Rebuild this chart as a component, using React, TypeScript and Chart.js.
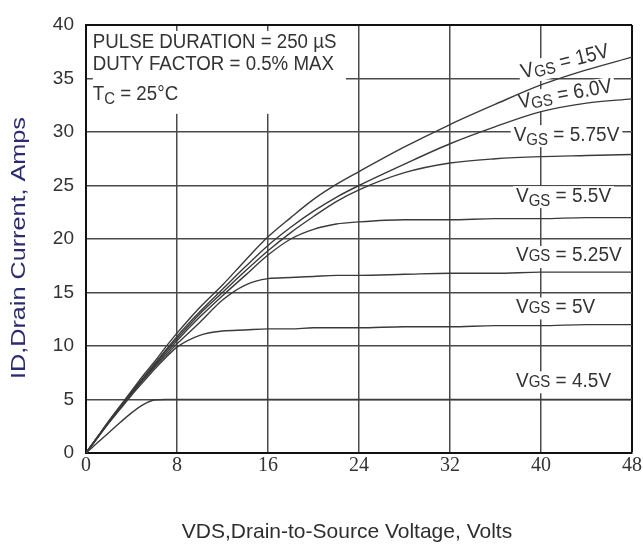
import React, { useEffect, useRef } from "react";
import { Chart, registerables } from "chart.js";

Chart.register(...registerables);

// ---- data ----
const VDS = [0, 1, 2, 3, 4, 5, 6, 7, 8, 10, 12, 14, 16, 18, 20, 22, 24, 28, 32, 36, 40, 44, 48];
const ID_15V = [0, 1.5, 3.0, 4.4, 5.8, 7.2, 8.5, 9.9, 11.2, 13.6, 15.7, 18.0, 20.2, 22.0, 23.7, 25.1, 26.3, 28.6, 30.7, 32.6, 34.4, 35.8, 37.0];
const ID_6V = [0, 1.45, 2.9, 4.3, 5.7, 7.0, 8.3, 9.6, 10.9, 13.2, 15.3, 17.4, 19.4, 21.1, 22.6, 23.9, 25.0, 27.0, 28.9, 30.5, 31.9, 32.7, 33.1];
const ID_575V = [0, 1.45, 2.9, 4.3, 5.6, 6.9, 8.2, 9.5, 10.7, 13.0, 15.0, 17.0, 18.9, 20.6, 22.1, 23.5, 24.6, 26.2, 27.1, 27.5, 27.7, 27.8, 27.9];
const ID_55V = [0, 1.45, 2.9, 4.3, 5.6, 6.9, 8.1, 9.3, 10.5, 12.7, 14.7, 16.6, 18.5, 20.0, 20.9, 21.4, 21.6, 21.8, 21.8, 21.9, 21.9, 22.0, 22.0];
const ID_525V = [0, 1.45, 2.85, 4.2, 5.5, 6.8, 8.0, 9.1, 10.2, 12.2, 14.3, 15.7, 16.3, 16.4, 16.5, 16.6, 16.6, 16.7, 16.8, 16.8, 16.9, 16.9, 16.9];
const ID_5V = [0, 1.4, 2.8, 4.1, 5.4, 6.6, 7.8, 8.9, 9.9, 11.0, 11.4, 11.5, 11.6, 11.6, 11.7, 11.7, 11.7, 11.8, 11.8, 11.9, 11.9, 12.0, 12.0];
const ID_45V = [0, 0.95, 1.9, 2.85, 3.75, 4.5, 4.95, 5.0, 5.0, 5.0, 5.0, 5.0, 5.0, 5.0, 5.0, 5.0, 5.0, 5.0, 5.0, 5.0, 5.0, 5.0, 5.0];
const SERIES_NAMES = ["VGS = 15V", "VGS = 6.0V", "VGS = 5.75V", "VGS = 5.5V", "VGS = 5.25V", "VGS = 5V", "VGS = 4.5V"];
const SERIES_VALUES = [ID_15V, ID_6V, ID_575V, ID_55V, ID_525V, ID_5V, ID_45V];
const X_TICKS = [0, 8, 16, 24, 32, 40, 48];
const Y_TICKS = [0, 5, 10, 15, 20, 25, 30, 35, 40];
const X_TITLE = "VDS,Drain-to-Source Voltage, Volts";
const Y_TITLE = "ID,Drain Current, Amps";
const NOTE_LINES = ["PULSE DURATION = 250 µS", "DUTY FACTOR = 0.5% MAX"];

// ---- styling ----
const SANS = "'Liberation Sans', Arial, sans-serif";
const SERIF = "'Liberation Serif', 'Times New Roman', serif";
const LINE_COLOR = "#3a3a3a";
const GRID_COLOR = "#4a4a4a";
const TEXT_COLOR = "#333333";
const SY = 1.1; // vertical stretch of annotation text

type Part = { t: string; size: number; dy: number };
type Label = { x: number; y: number; angle: number; parts: Part[]; bg: boolean };

const big = (t: string): Part => ({ t, size: 19, dy: 0 });
const sub = (t: string, dy: number): Part => ({ t, size: 15, dy });
const note = (t: string): Part => ({ t, size: 18.7, dy: 0 });

const CURVE_LABELS: Label[] = [
  { x: 38.4, y: 35.0, angle: -14, bg: true, parts: [big("V"), sub("GS", 2), big(" = 15V")] },
  { x: 38.1, y: 32.2, angle: -10, bg: true, parts: [big("V"), sub("GS", 2), big(" = 6.0V")] },
  { x: 37.6, y: 29.2, angle: 0, bg: true, parts: [big("V"), sub("GS", 4), big(" = 5.75V")] },
  { x: 37.8, y: 23.5, angle: 0, bg: true, parts: [big("V"), sub("GS", 4), big(" = 5.5V")] },
  { x: 37.8, y: 17.9, angle: 0, bg: true, parts: [big("V"), sub("GS", 0), big(" = 5.25V")] },
  { x: 37.8, y: 13.1, angle: 0, bg: true, parts: [big("V"), sub("GS", 0), big(" = 5V")] },
  { x: 37.8, y: 6.2, angle: 0, bg: true, parts: [big("V"), sub("GS", 0), big(" = 4.5V")] },
];

const NOTE_LABELS: Label[] = [
  { x: 0.6, y: 37.85, angle: 0, bg: false, parts: [note(NOTE_LINES[0])] },
  { x: 0.6, y: 35.8, angle: 0, bg: false, parts: [note(NOTE_LINES[1])] },
  { x: 0.6, y: 33.0, angle: 0, bg: false, parts: [note("T"), sub("C", 4), note(" = 25°C")] },
];

function partsWidth(ctx: CanvasRenderingContext2D, parts: Part[]) {
  let w = 0;
  for (const p of parts) {
    ctx.font = `${p.size}px ${SANS}`;
    w += ctx.measureText(p.t).width;
  }
  return w;
}

function placeLabel(chart: any, ctx: CanvasRenderingContext2D, l: Label) {
  const px = chart.scales.x.getPixelForValue(l.x);
  const py = chart.scales.y.getPixelForValue(l.y);
  ctx.translate(px, py);
  ctx.rotate((l.angle * Math.PI) / 180);
  ctx.scale(1, SY);
}

const annotPlugin = {
  id: "annot",
  beforeDatasetsDraw(chart: any) {
    const ctx: CanvasRenderingContext2D = chart.ctx;
    const xs = chart.scales.x;
    const ys = chart.scales.y;
    ctx.save();
    ctx.fillStyle = "#ffffff";
    // white panel behind the test-condition note
    const l = xs.getPixelForValue(0.6);
    const r = xs.getPixelForValue(22.85);
    const t = ys.getPixelForValue(39.45);
    const b = ys.getPixelForValue(31.7);
    ctx.fillRect(l, t, r - l, b - t);
    ctx.restore();
    for (const lab of CURVE_LABELS) {
      ctx.save();
      placeLabel(chart, ctx, lab);
      const w = partsWidth(ctx, lab.parts);
      ctx.fillStyle = "#ffffff";
      ctx.fillRect(-3, -14, w + 6, 20);
      ctx.restore();
    }
  },
  afterDatasetsDraw(chart: any) {
    const ctx: CanvasRenderingContext2D = chart.ctx;
    const all = [...CURVE_LABELS, ...NOTE_LABELS];
    for (const lab of all) {
      ctx.save();
      placeLabel(chart, ctx, lab);
      ctx.fillStyle = TEXT_COLOR;
      ctx.textBaseline = "alphabetic";
      ctx.textAlign = "left";
      let x = 0;
      for (const p of lab.parts) {
        ctx.font = `${p.size}px ${SANS}`;
        ctx.fillText(p.t, x, p.dy);
        x += ctx.measureText(p.t).width;
      }
      ctx.restore();
    }
    // axis titles
    const area = chart.chartArea;
    ctx.save();
    ctx.fillStyle = "#2e2e2e";
    ctx.font = `21px ${SANS}`;
    ctx.textAlign = "center";
    ctx.textBaseline = "middle";
    ctx.fillText(X_TITLE, (area.left + area.right) / 2 - 12, 532);
    ctx.restore();
    ctx.save();
    ctx.fillStyle = "#2b2b6e";
    ctx.font = `21px ${SANS}`;
    ctx.textAlign = "center";
    ctx.textBaseline = "middle";
    ctx.translate(19, (area.top + area.bottom) / 2 + 9);
    ctx.rotate(-Math.PI / 2);
    ctx.scale(1.2, 1);
    ctx.fillText(Y_TITLE, 0, 0);
    ctx.restore();
  },
};

export default function App() {
  const ref = useRef<HTMLCanvasElement | null>(null);
  useEffect(() => {
    document.body.style.margin = "0";
    const canvas = ref.current;
    if (!canvas) return;
    const datasets = SERIES_VALUES.map((vals, i) => ({
      label: SERIES_NAMES[i],
      data: VDS.map((v, j) => ({ x: v, y: vals[j] })),
      borderColor: LINE_COLOR,
      borderWidth: 1.4,
      pointRadius: 0,
      fill: false,
      cubicInterpolationMode: "monotone" as const,
    }));
    const chart = new Chart(canvas, {
      type: "line",
      data: { datasets },
      plugins: [annotPlugin],
      options: {
        animation: false,
        responsive: false,
        maintainAspectRatio: false,
        layout: { padding: { left: 0, right: 9, top: 25, bottom: 0 } },
        plugins: { legend: { display: false }, tooltip: { enabled: false } },
        scales: {
          x: {
            type: "linear",
            min: 0,
            max: 48,
            afterBuildTicks: (s: any) => {
              s.ticks = X_TICKS.map((v) => ({ value: v }));
            },
            afterFit: (s: any) => {
              s.height = 104;
            },
            grid: {
              color: (c: any) => (c.tick && c.tick.value === 48 ? "#111" : GRID_COLOR),
              lineWidth: (c: any) => (c.tick && c.tick.value === 48 ? 2 : 1.5),
              drawTicks: false,
            },
            border: { color: "#111", width: 2 },
            ticks: {
              padding: 1,
              color: TEXT_COLOR,
              font: { family: SERIF, size: 20 },
              maxRotation: 0,
              callback: (v: any) => String(v),
            },
          },
          y: {
            type: "linear",
            min: 0,
            max: 40,
            afterBuildTicks: (s: any) => {
              s.ticks = Y_TICKS.map((v) => ({ value: v }));
            },
            afterFit: (s: any) => {
              s.width = 86;
            },
            grid: {
              color: (c: any) => (c.tick && c.tick.value === 40 ? "#111" : GRID_COLOR),
              lineWidth: (c: any) => (c.tick && c.tick.value === 40 ? 2 : 1.5),
              drawTicks: false,
            },
            border: { color: "#111", width: 2 },
            ticks: {
              padding: 12,
              color: TEXT_COLOR,
              font: { family: SANS, size: 19 },
              callback: (v: any) => String(v),
            },
          },
        },
      },
    });
    return () => chart.destroy();
  }, []);
  return (
    <div style={{ width: 643, height: 557 }}>
      <canvas ref={ref} width={643} height={557} style={{ display: "block" }} />
    </div>
  );
}
